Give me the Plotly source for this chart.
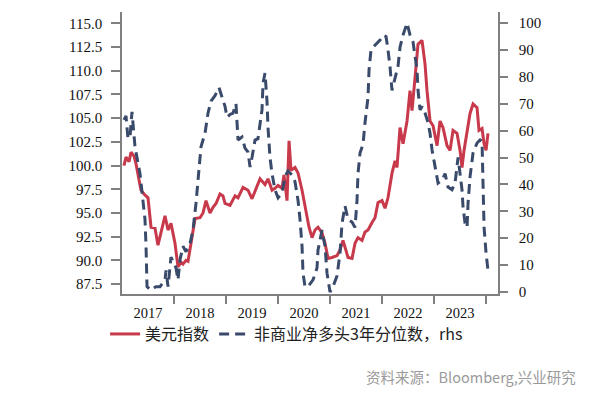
import plotly.graph_objects as go

# Dollar index (lhs): time as decimal year, value
dxy_t = [2017.038, 2017.077, 2017.135, 2017.173, 2017.231, 2017.269, 2017.327, 2017.365, 2017.423, 2017.5,
         2017.558, 2017.635, 2017.692, 2017.75, 2017.827, 2017.885, 2017.942, 2018.019, 2018.077, 2018.135,
         2018.173, 2018.231, 2018.269, 2018.327, 2018.404, 2018.5, 2018.558, 2018.615, 2018.692, 2018.75,
         2018.808, 2018.885, 2018.942, 2018.981, 2019.077, 2019.173, 2019.231, 2019.327, 2019.423, 2019.5,
         2019.596, 2019.654, 2019.75, 2019.808, 2019.885, 2019.942, 2020.0, 2020.077, 2020.115, 2020.173,
         2020.212, 2020.25, 2020.327, 2020.385, 2020.462, 2020.519, 2020.558, 2020.596, 2020.654, 2020.712,
         2020.769, 2020.846, 2020.904, 2020.962, 2021.038, 2021.135, 2021.192, 2021.25, 2021.288, 2021.346,
         2021.423, 2021.481, 2021.538, 2021.615, 2021.673, 2021.731, 2021.808, 2021.865, 2021.923, 2022.0,
         2022.058, 2022.115, 2022.192, 2022.25, 2022.288, 2022.346, 2022.404, 2022.442, 2022.481, 2022.538,
         2022.577, 2022.635, 2022.692, 2022.769, 2022.827, 2022.865, 2022.923, 2022.981, 2023.058, 2023.115,
         2023.173, 2023.25, 2023.308, 2023.365, 2023.442, 2023.5, 2023.538, 2023.577, 2023.635, 2023.692,
         2023.75, 2023.827, 2023.865, 2023.923, 2023.962, 2024.0, 2024.038]
dxy_v = [100.0, 100.9, 100.4, 101.4, 101.0, 100.2, 98.5, 97.4, 97.0, 96.6,
         93.5, 93.4, 91.6, 92.8, 94.7, 93.2, 93.9, 91.8, 89.3, 89.8,
         89.6, 90.0, 89.9, 91.8, 94.4, 94.5, 95.0, 96.3, 95.0, 95.6,
         96.0, 97.0, 96.8, 96.0, 95.8, 96.8, 96.6, 97.7, 97.4, 96.5,
         97.9, 98.6, 98.0, 98.6, 97.4, 97.6, 97.9, 97.6, 99.0, 96.3,
         102.6, 99.5, 99.8, 99.2, 97.4, 95.6, 94.5, 93.5, 92.4, 93.2,
         93.5, 92.9, 91.8, 90.2, 90.3, 90.5, 91.1, 92.1, 91.4, 90.3,
         90.2, 91.8, 92.4, 92.1, 93.0, 93.2, 94.0, 94.5, 96.1, 96.3,
         95.5, 96.6, 99.2, 100.5, 99.8, 104.0, 102.3, 103.5, 104.7, 107.9,
         105.8, 109.3, 112.8, 113.2, 110.7, 107.9, 104.7, 104.2, 102.1, 104.7,
         104.0, 102.1, 101.6, 103.7, 103.4, 101.6, 99.8, 101.6, 103.7, 105.5,
         106.5, 106.1, 103.7, 103.9, 102.3, 101.6, 103.4]

# Non-commercial net long, 3-year percentile (rhs)
pct_t = [2017.038, 2017.077, 2017.115, 2017.154, 2017.192, 2017.25, 2017.346, 2017.404, 2017.442, 2017.462,
         2017.481, 2017.558, 2017.654, 2017.731, 2017.827, 2017.846, 2017.885, 2017.942, 2018.038, 2018.077,
         2018.115, 2018.173, 2018.231, 2018.308, 2018.365, 2018.423, 2018.462, 2018.519, 2018.596, 2018.654,
         2018.712, 2018.788, 2018.865, 2018.923, 2018.981, 2019.019, 2019.077, 2019.135, 2019.192, 2019.212,
         2019.231, 2019.308, 2019.365, 2019.423, 2019.462, 2019.5, 2019.558, 2019.615, 2019.692, 2019.712,
         2019.75, 2019.788, 2019.808, 2019.846, 2019.885, 2019.942, 2020.0, 2020.077, 2020.135, 2020.192,
         2020.269, 2020.327, 2020.385, 2020.423, 2020.462, 2020.481, 2020.519, 2020.577, 2020.673, 2020.75,
         2020.769, 2020.846, 2020.904, 2020.942, 2021.0, 2021.058, 2021.135, 2021.192, 2021.231, 2021.288,
         2021.346, 2021.423, 2021.481, 2021.519, 2021.538, 2021.577, 2021.635, 2021.673, 2021.731, 2021.75,
         2021.788, 2021.827, 2021.904, 2021.962, 2022.019, 2022.077, 2022.115, 2022.154, 2022.192, 2022.25,
         2022.308, 2022.346, 2022.404, 2022.481, 2022.538, 2022.596, 2022.673, 2022.692, 2022.731, 2022.769,
         2022.827, 2022.885, 2022.923, 2022.962, 2023.019, 2023.058, 2023.077, 2023.154, 2023.212, 2023.269,
         2023.346, 2023.404, 2023.442, 2023.462, 2023.5, 2023.538, 2023.558, 2023.596, 2023.635, 2023.654,
         2023.692, 2023.75, 2023.827, 2023.885, 2023.923, 2023.942, 2023.962, 2024.0, 2024.038]
pct_v = [64.0, 65.5, 57.0, 57.6, 67.0, 54.0, 44.0, 34.0, 27.0, 17.0,
         2.0, 0.7, 2.0, 2.0, 4.5, 8.0, 2.0, 13.0, 9.0, 4.5,
         12.0, 17.0, 15.0, 18.0, 23.0, 33.0, 43.0, 54.0, 59.0, 66.5,
         71.0, 73.0, 76.0, 72.5, 69.0, 65.0, 66.0, 66.5, 70.0, 63.0,
         56.5, 57.6, 53.5, 52.0, 46.5, 50.0, 56.5, 57.0, 67.7, 77.7,
         81.4, 71.0, 61.0, 50.0, 44.0, 38.0, 35.0, 36.8, 43.0, 45.0,
         43.5, 41.0, 34.0, 27.0, 17.0, 7.0, 2.0, 2.0, 4.5, 9.0,
         15.6, 23.0, 17.0, 7.0, 0.0, 2.0, 6.0, 14.5, 25.6, 32.0,
         27.0, 26.0, 24.0, 34.0, 44.0, 51.7, 55.0, 63.0, 72.5, 82.5,
         90.0, 91.0, 92.6, 93.7, 95.5, 95.0, 90.0, 83.6, 75.0, 80.0,
         84.0, 91.0, 95.5, 100.0, 95.5, 93.0, 82.5, 75.0, 67.7, 69.0,
         66.5, 63.0, 59.0, 52.8, 46.5, 42.8, 40.5, 41.6, 44.0, 39.0,
         38.0, 40.5, 46.5, 50.0, 44.0, 38.0, 31.6, 25.6, 24.0, 33.0,
         42.8, 51.7, 55.4, 56.5, 56.0, 35.0, 24.0, 14.5, 8.0]

years = ["2017", "2018", "2019", "2020", "2021", "2022", "2023"]
year_mid = [2017.5, 2018.5, 2019.5, 2020.5, 2021.5, 2022.5, 2023.5]
year_edges = [2018, 2019, 2020, 2021, 2022, 2023, 2024]
lhs_ticks = [87.5, 90.0, 92.5, 95.0, 97.5, 100.0, 102.5, 105.0, 107.5, 110.0, 112.5, 115.0]
rhs_ticks = [0, 10, 20, 30, 40, 50, 60, 70, 80, 90, 100]

RED = "#C8394B"
BLUE = "#3A4A6B"
AXIS = "#808080"
CJK = "Noto Sans CJK SC"
SERIF = "Liberation Serif"

fig = go.Figure()
fig.add_trace(go.Scatter(x=dxy_t, y=dxy_v, mode="lines", name="美元指数",
                         line=dict(color=RED, width=3), yaxis="y"))
fig.add_trace(go.Scatter(x=pct_t, y=pct_v, mode="lines", name="非商业净多头3年分位数，rhs",
                         line=dict(color=BLUE, width=3, dash="10px,6px"), yaxis="y2"))

# page body has an 8px margin, so the figure is 8px smaller and offsets reduced by 8
fig.update_layout(
    width=594, height=385,
    margin=dict(l=114, r=104, t=4, b=99),
    paper_bgcolor="white", plot_bgcolor="white",
    showlegend=True,
    legend=dict(orientation="h", x=-0.045, y=-0.142, xanchor="left", yanchor="middle",
                font=dict(family=CJK, size=16, color="#222"), itemwidth=30,
                bgcolor="rgba(0,0,0,0)"),
    xaxis=dict(range=[2017, 2024.23], showgrid=False, zeroline=False,
               showline=True, linecolor=AXIS, linewidth=1.5,
               tickmode="array", tickvals=year_mid, ticktext=years, ticks="",
               ticklabelstandoff=5,
               tickfont=dict(family=SERIF, size=14.5, color="#111")),
    yaxis=dict(range=[86.45, 116.2], showgrid=False, zeroline=False,
               showline=True, linecolor=AXIS, linewidth=1.5,
               tickmode="array", tickvals=lhs_ticks, tickformat=".1f",
               ticks="outside", ticklen=9, tickwidth=1.5, tickcolor=AXIS,
               ticklabelstandoff=6,
               tickfont=dict(family=SERIF, size=15, color="#111")),
    yaxis2=dict(range=[-0.74, 104.1], overlaying="y", side="right", showgrid=False,
                zeroline=False, showline=True, linecolor=AXIS, linewidth=1.5,
                tickmode="array", tickvals=rhs_ticks,
                ticks="outside", ticklen=8, tickwidth=1.5, tickcolor=AXIS,
                ticklabelstandoff=8,
                tickfont=dict(family=SERIF, size=15, color="#111")),
    annotations=[dict(text="资料来源：Bloomberg,兴业研究", xref="paper", yref="paper",
                      x=1.213, y=-0.294, xanchor="right", yanchor="middle", showarrow=False,
                      font=dict(family=CJK, size=14.5, color="#9A9A9A"))],
)
fig.update_xaxes(minor=dict(tickmode="array", tickvals=year_edges, ticks="outside",
                            ticklen=8, tickwidth=1.5, tickcolor=AXIS, showgrid=False))

fig.write_html("out.html")
